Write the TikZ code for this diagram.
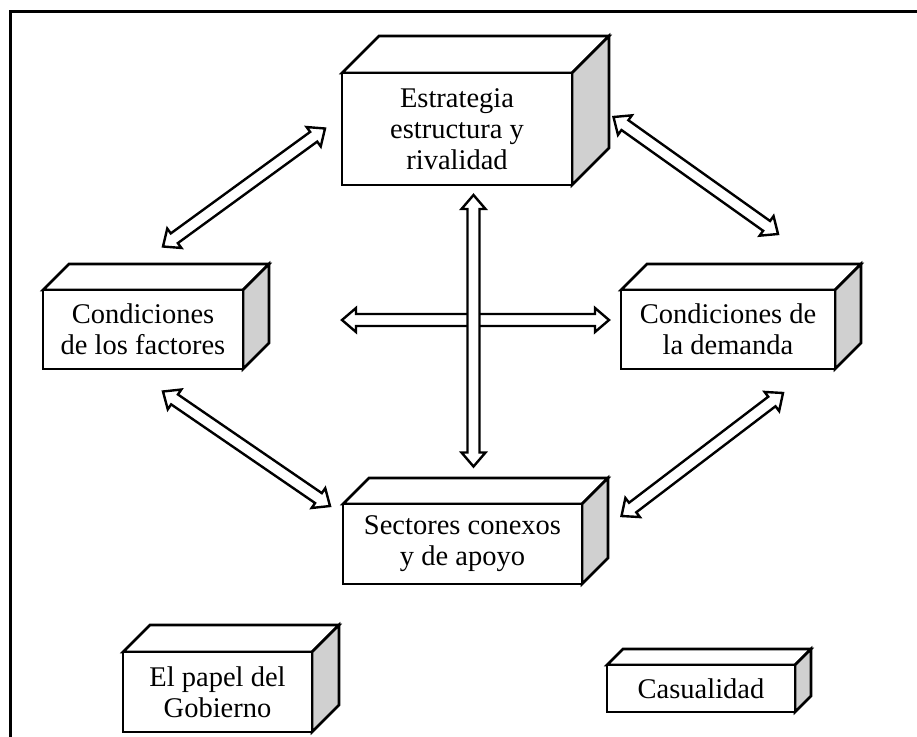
\documentclass[tikz,border=0pt]{standalone}
\usepackage{fontspec}
\setmainfont{Liberation Serif}
\usetikzlibrary{calc}
\definecolor{sidegray}{RGB}{208,208,208}
\tikzset{
  frontface/.style={draw, line width=2.6pt, fill=white, rectangle, outer sep=0pt, inner sep=0pt,
    align=center, font=\fontsize{28.5}{31}\selectfont, line join=miter},
  topface/.style={draw, line width=2.6pt, fill=white, line join=miter},
  sideface/.style={draw, line width=2.6pt, fill=sidegray, line join=miter},
  hollowarrow/.style={draw, line width=2.4pt, fill=white, line join=miter},
  frameline/.style={draw, line width=3pt}
}
% cuboid: name, cx, cy, width, height, depth, text
\newcommand\mycuboid[7]{%
  \node[frontface, minimum width=#4pt, minimum height=#5pt] (#1) at (#2,#3) {#7};
  \path[topface] (#1.north west) -- ++(#6,-#6) -- ($(#1.north east)+(#6,-#6)$) -- (#1.north east) -- cycle;
  \path[sideface] (#1.north east) -- ++(#6,-#6) -- ($(#1.south east)+(#6,-#6)$) -- (#1.south east) -- cycle;
  \node[frontface, minimum width=#4pt, minimum height=#5pt] at (#1.center) {#7};
}
% hollow double arrow between two named coordinates
\newcommand\myarrow[2]{%
  \path[hollowarrow] (#1)
   -- ($(#1)!14pt!(#2)!12pt!90:(#2)$)
   -- ($(#1)!14pt!(#2)!6pt!90:(#2)$)
   -- ($(#2)!14pt!(#1)!6pt!-90:(#1)$)
   -- ($(#2)!14pt!(#1)!12pt!-90:(#1)$)
   -- (#2)
   -- ($(#2)!14pt!(#1)!12pt!90:(#1)$)
   -- ($(#2)!14pt!(#1)!6pt!90:(#1)$)
   -- ($(#1)!14pt!(#2)!6pt!-90:(#2)$)
   -- ($(#1)!14pt!(#2)!12pt!-90:(#2)$)
   -- cycle;
}
\begin{document}
\begin{tikzpicture}[x=1pt, y=-1pt]
\useasboundingbox (0,0) rectangle (917,736);
\clip (0,0) rectangle (917,736);
\fill[white] (0,0) rectangle (917,736);
\path[frameline] (10.5,11.5) rectangle (940,760);

% boxes
\mycuboid{ests}{457}{129}{230}{112}{37}{Estrategia\\estructura y\\rivalidad}
\mycuboid{fact}{143}{329.5}{200}{79}{26}{Condiciones\\de los factores}
\mycuboid{dema}{728}{329.5}{214}{79}{26}{Condiciones de\\la demanda}
\mycuboid{sect}{462.5}{544}{239}{80}{26}{Sectores conexos\\y de apoyo}
\mycuboid{gobi}{217.5}{692}{189}{80}{27}{El papel del\\Gobierno}
\mycuboid{casu}{701}{688.5}{188}{47}{16}{Casualidad}

% arrow end points
\coordinate (a1s) at (163,246.5);
\coordinate (a1e) at (325,128.5);
\coordinate (a2s) at (613.5,117);
\coordinate (a2e) at (778,234);
\coordinate (a3s) at (163,391.5);
\coordinate (a3e) at (330,506);
\coordinate (a4s) at (621.5,516);
\coordinate (a4e) at (783,393);
\coordinate (hs) at (342,320);
\coordinate (he) at (609,320);
\coordinate (vs) at (473.5,195);
\coordinate (ve) at (473.5,466.5);

\myarrow{a1s}{a1e}
\myarrow{a2s}{a2e}
\myarrow{a3s}{a3e}
\myarrow{a4s}{a4e}
\myarrow{hs}{he}
\myarrow{vs}{ve}
\end{tikzpicture}
\end{document}
